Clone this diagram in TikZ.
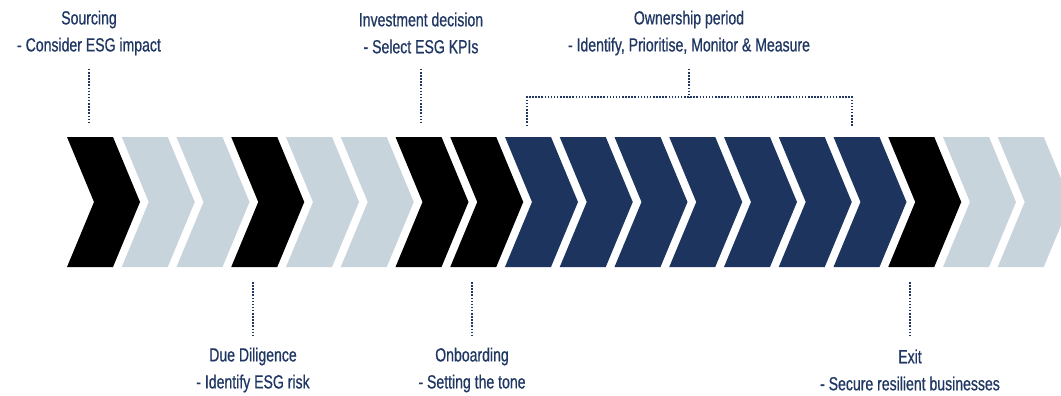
\documentclass[tikz,border=0pt]{standalone}
\usepackage{fontspec}
\setmainfont{Liberation Sans}[FakeStretch=0.74,FakeBold=0.6]
\definecolor{blk}{HTML}{000000}
\definecolor{gry}{HTML}{C8D4DC}
\definecolor{nvy}{HTML}{1D355E}
\definecolor{txt}{HTML}{1F3762}
\tikzset{
  lbl/.style={text=txt, align=center, inner sep=0pt, font=\fontsize{19}{27}\selectfont},
  dotline/.style={draw=txt, line width=1.6pt, line cap=butt, dash pattern=on 1.5pt off 1.6pt},
}
\begin{document}
\begin{tikzpicture}[x=1pt,y=-1pt]
\useasboundingbox (0,0) rectangle (1061,396);
\clip (0,0) rectangle (1061,396);
\fill[white] (0,0) rectangle (1061,396);
% chevrons
\foreach \c [count=\k from 0] in {blk,gry,gry,blk,gry,gry,blk,blk,nvy,nvy,nvy,nvy,nvy,nvy,nvy,blk,gry,gry}{
  \pgfmathsetmacro\xo{67+54.75*\k}
  \fill[\c] (\xo,137) -- ++(46,0) -- ++(27,65) -- ++(-27,65) -- ++(-46,0) -- ++(27,-65) -- cycle;
  \coordinate (ch\k) at (\xo+22,137);
}
% labels
\node[lbl] (src) at (89,33) {Sourcing\\- Consider ESG impact};
\node[lbl] (inv) at (421,33) {Investment decision\\- Select ESG KPIs};
\node[lbl] (own) at (689,33) {Ownership period\\- Identify, Prioritise, Monitor \& Measure};
\node[lbl] (dd) at (253,370) {Due Diligence\\- Identify ESG risk};
\node[lbl] (onb) at (472,370) {Onboarding\\- Setting the tone};
\node[lbl] (ext) at (910,370) {Exit\\- Secure resilient businesses};
% connector coordinates
\coordinate (srcA) at (89,69);  \coordinate (srcB) at (89,123);
\coordinate (invA) at (421,69); \coordinate (invB) at (421,123);
\coordinate (ownA) at (689,69); \coordinate (ownM) at (689,97);
\coordinate (ownL) at (527,97); \coordinate (ownR) at (852,97);
\coordinate (ownLB) at (527,126); \coordinate (ownRB) at (852,126);
\coordinate (ddA) at (253,282); \coordinate (ddB) at (253,337);
\coordinate (onbA) at (472,282); \coordinate (onbB) at (472,337);
\coordinate (extA) at (910,282); \coordinate (extB) at (910,337);
\draw[dotline] (srcA) -- (srcB);
\draw[dotline] (invA) -- (invB);
\draw[dotline] (ownA) -- (ownM);
\draw[dotline] (ownLB) -- (ownL) -- (ownR) -- (ownRB);
\draw[dotline] (ddA) -- (ddB);
\draw[dotline] (onbA) -- (onbB);
\draw[dotline] (extA) -- (extB);
\end{tikzpicture}
\end{document}
